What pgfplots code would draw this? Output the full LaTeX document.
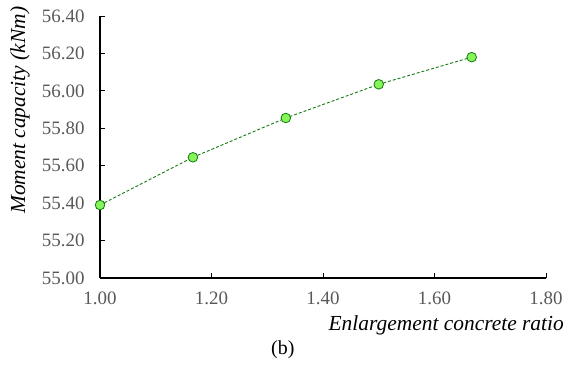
\documentclass[border=0pt]{standalone}
\usepackage{fontspec}
\setmainfont{Liberation Serif}
\usepackage{pgfplots}
\pgfplotsset{compat=1.18}
\definecolor{tickgray}{HTML}{595959}
\definecolor{dgreen}{HTML}{127A12}
\definecolor{lgreen}{HTML}{86F55A}
\begin{document}
\begin{tikzpicture}[x=1bp,y=1bp]
\path[use as bounding box] (-100,-87) rectangle (464,278);
\begin{axis}[
  at={(0,0)}, anchor=origin,
  scale only axis, width=446bp, height=262bp,
  xmin=1, xmax=1.8, ymin=55, ymax=56.4,
  axis x line*=bottom, axis y line*=left,
  axis line style={black, line width=1.1pt, -},
  xtick={1,1.2,...,1.8}, ytick={55,55.2,...,56.4},
  tick align=inside, major tick length=5bp,
  tick style={black, line width=1pt},
  /pgf/number format/assume math mode=true,
  /pgf/number format/.cd, fixed, fixed zerofill, precision=2, /pgfplots/.cd,
  ticklabel style={font=\fontsize{19}{22}\selectfont, text=tickgray},
  xticklabel style={yshift=-10bp},
  yticklabel style={xshift=-12bp},
  clip=false,
]
\addplot[dgreen, densely dashed, line width=0.9pt, mark=*, mark size=4.8bp,
  mark options={solid, fill=lgreen, draw=dgreen, line width=0.8pt}]
  coordinates {(1.0,55.39) (1.1667,55.645) (1.3333,55.855) (1.5,56.035) (1.6667,56.18)};
\node[anchor=north east, font=\itshape\fontsize{21.5}{24}\selectfont, inner sep=0pt] at ([yshift=-37bp, xshift=18bp]rel axis cs:1,0) {Enlargement concrete ratio};
\node[rotate=90, font=\itshape\fontsize{21.5}{24}\selectfont, inner sep=0pt] at ([xshift=-80bp]rel axis cs:0,0.64) {Moment capacity (kNm)};
\node[font=\fontsize{20}{23}\selectfont, inner sep=0pt] at ([yshift=-72bp]rel axis cs:0.41,0) {(b)};
\end{axis}
\end{tikzpicture}
\end{document}
